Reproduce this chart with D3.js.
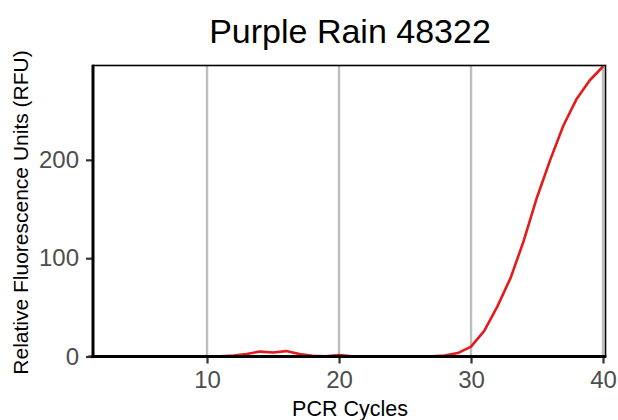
<!DOCTYPE html>
<html>
<head>
<meta charset="utf-8">
<script src="https://cdn.jsdelivr.net/npm/d3@7"></script>
<style>
  html, body { margin: 0; padding: 0; background: #fff; }
  svg { display: block; font-family: "Liberation Sans", Arial, sans-serif; }
</style>
</head>
<body>
<svg id="chart" width="618" height="420"></svg>
<script>
const title = "Purple Rain 48322";
const xLabel = "PCR Cycles";
const yLabel = "Relative Fluorescence Units (RFU)";
const cycles = d3.range(1, 41);
const rfu = [0, 0, 0, 0, 0, 0, 0, 0, 0, 0,
             0.3, 1, 2.5, 5, 4, 5.5, 2.5, 0.8, 0.2, 1.5,
             0.2, 0, 0, 0, 0, 0, 0.3, 1, 3.5, 10,
             26, 51, 80, 118, 162, 200, 235, 262, 281, 295];
const xTicks = [10, 20, 30, 40];
const yTicks = [0, 100, 200];

(function () {
const svg = d3.select("#chart");
const pL = 93, pR = 605, pT = 65.5, pB = 356.5;

const x = d3.scaleLinear().domain([1.36, 40.15]).range([pL, pR]);
const y = d3.scaleLinear().domain([0, 296]).range([pB, pT]);

// vertical gridlines
svg.append("g").selectAll("line").data(xTicks).join("line")
  .attr("x1", d => x(d)).attr("x2", d => x(d))
  .attr("y1", pT).attr("y2", pB)
  .attr("stroke", "#bebebe").attr("stroke-width", 2.4);

// line
const data = cycles.map((c, i) => ({c, v: rfu[i]}));
svg.append("path").datum(data)
  .attr("fill", "none").attr("stroke", "#e41a1c").attr("stroke-width", 2.6)
  .attr("stroke-linejoin", "round")
  .attr("d", d3.line().x(d => x(d.c)).y(d => y(d.v)));

// panel border (top/right thin)
svg.append("rect").attr("x", pL).attr("y", pT)
  .attr("width", pR - pL + 0.5).attr("height", pB - pT)
  .attr("fill", "none").attr("stroke", "#000").attr("stroke-width", 1.6);

// x axis
const xAxis = svg.append("g").attr("transform", `translate(0,${pB})`)
  .call(d3.axisBottom(x).tickValues(xTicks).tickSize(7).tickPadding(7).tickFormat(d3.format("d")));
xAxis.select(".domain").remove();
xAxis.selectAll(".tick line").attr("stroke", "#333").attr("stroke-width", 2.2);
xAxis.selectAll(".tick text").attr("fill", "#4d4d4d").attr("font-size", 24)
  .attr("font-family", "Liberation Sans, Arial, sans-serif");

// y axis
const yAxis = svg.append("g").attr("transform", `translate(${pL},0)`)
  .call(d3.axisLeft(y).tickValues(yTicks).tickSize(7).tickPadding(7).tickFormat(d3.format("d")));
yAxis.select(".domain").remove();
yAxis.selectAll(".tick line").attr("stroke", "#333").attr("stroke-width", 2.2);
yAxis.selectAll(".tick text").attr("fill", "#4d4d4d").attr("font-size", 24)
  .attr("font-family", "Liberation Sans, Arial, sans-serif");

// axis lines (thicker)
svg.append("line").attr("x1", pL).attr("x2", pL).attr("y1", pT - 0.8).attr("y2", pB + 1.5)
  .attr("stroke", "#000").attr("stroke-width", 3);
svg.append("line").attr("x1", pL - 1.5).attr("x2", pR + 1.3).attr("y1", pB).attr("y2", pB)
  .attr("stroke", "#000").attr("stroke-width", 3);

// titles
svg.append("text").attr("x", 350).attr("y", 43)
  .attr("text-anchor", "middle").attr("font-size", 34).attr("fill", "#000").text(title);
svg.append("text").attr("x", 350).attr("y", 416)
  .attr("text-anchor", "middle").attr("font-size", 21.5).attr("fill", "#000").text(xLabel);
svg.append("text").attr("transform", `translate(28,212.5) rotate(-90)`)
  .attr("text-anchor", "middle").attr("font-size", 21).attr("fill", "#000").text(yLabel);
})();
</script>
</body>
</html>
